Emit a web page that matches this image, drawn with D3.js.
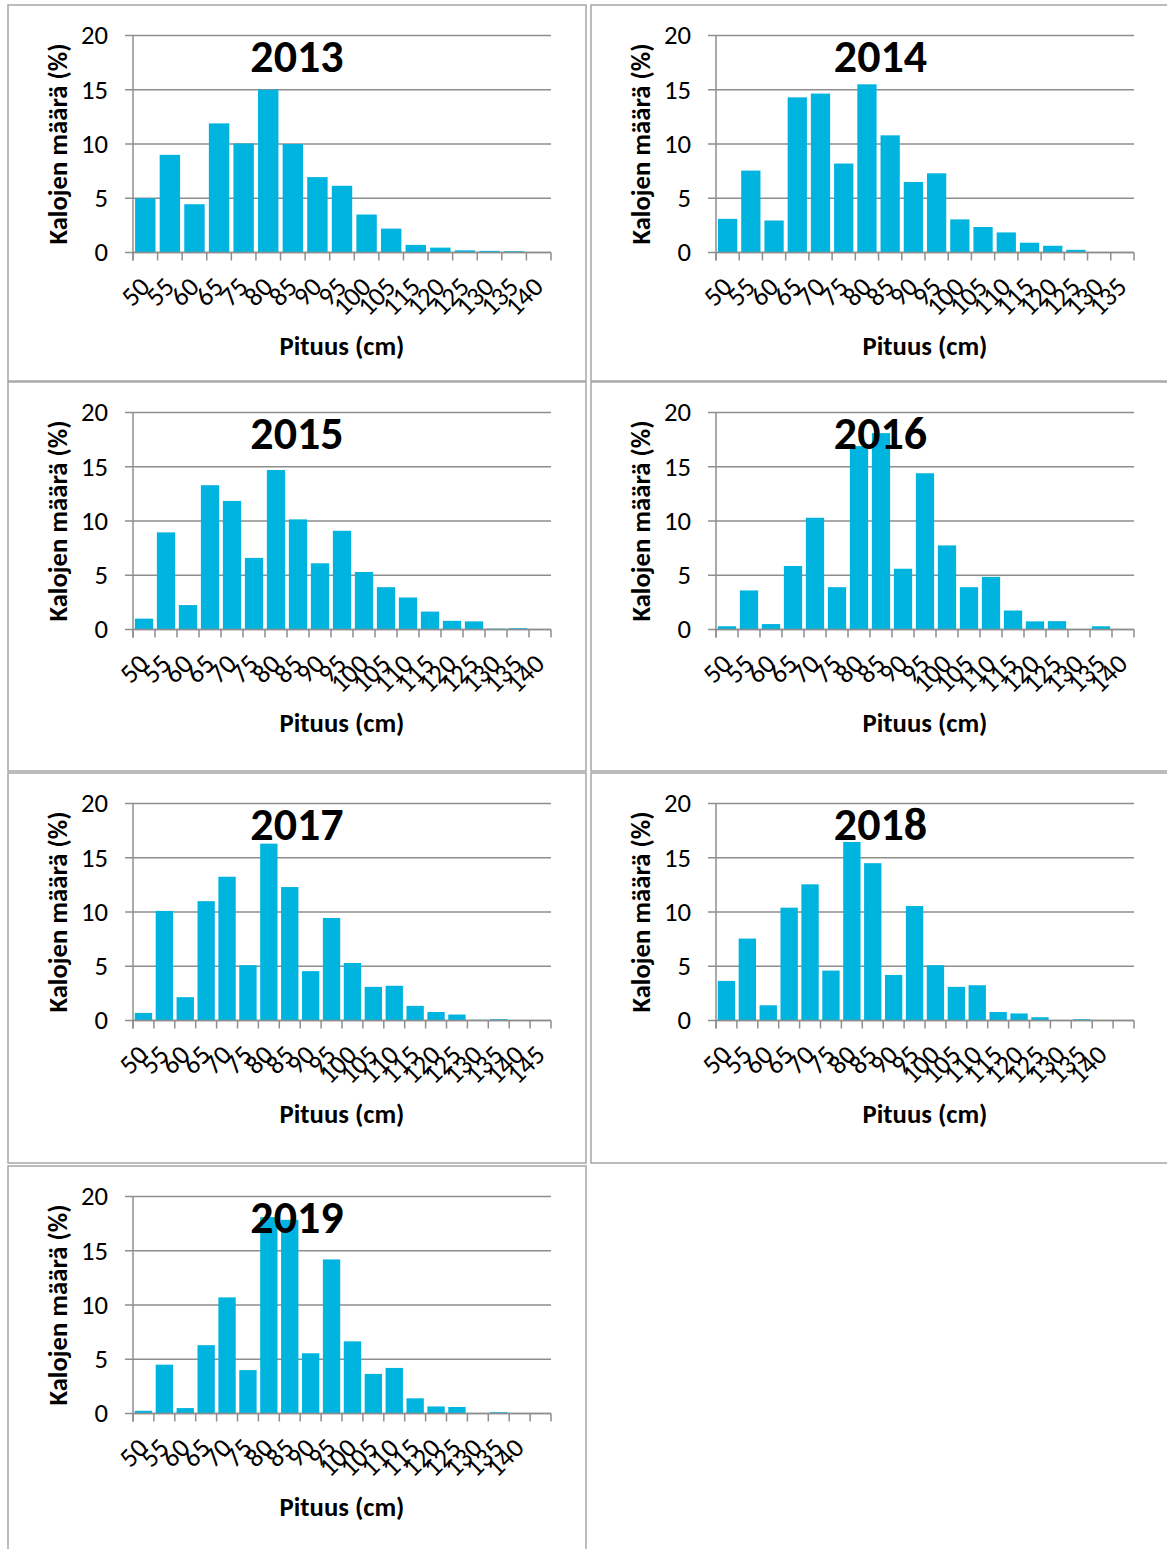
<!DOCTYPE html>
<html>
<head>
<meta charset="utf-8">
<script src="https://d3js.org/d3.v7.min.js"></script>
<style>
  body { margin: 0; background: #fff; }
  text { font-family: Carlito, Lato, "Open Sans", sans-serif; fill: #000; }
</style>
</head>
<body>
<svg id="chart" width="1167" height="1549"></svg>
<script>
// y axis ticks (same in every panel)
var yTicks = [0, 5, 10, 15, 20];

// length classes (cm) and share of fish (%) per year
var cats2013 = ["50", "55", "60", "65", "75", "80", "85", "90", "95", "100", "105", "115", "120", "125", "130", "135", "140"];
var vals2013 = [5.0, 9.0, 4.45, 11.9, 10.05, 15.0, 10.0, 6.95, 6.15, 3.5, 2.2, 0.7, 0.45, 0.2, 0.15, 0.12, 0];

var cats2014 = ["50", "55", "60", "65", "70", "75", "80", "85", "90", "95", "100", "105", "110", "115", "120", "125", "130", "135"];
var vals2014 = [3.1, 7.55, 2.95, 14.3, 14.65, 8.2, 15.5, 10.8, 6.5, 7.3, 3.05, 2.35, 1.85, 0.9, 0.62, 0.25, 0, 0.05];

var cats2015 = ["50", "55", "60", "65", "70", "75", "80", "85", "90", "95", "100", "105", "110", "115", "120", "125", "130", "135", "140"];
var vals2015 = [1.0, 8.95, 2.25, 13.3, 11.85, 6.6, 14.7, 10.15, 6.1, 9.1, 5.3, 3.9, 2.95, 1.65, 0.8, 0.75, 0.08, 0.12, 0];

var cats2016 = ["50", "55", "60", "65", "70", "75", "80", "85", "90", "95", "100", "105", "110", "115", "120", "125", "130", "135", "140"];
var vals2016 = [0.3, 3.6, 0.5, 5.85, 10.3, 3.9, 16.9, 18.1, 5.6, 14.4, 7.75, 3.9, 4.85, 1.75, 0.75, 0.77, 0, 0.3, 0];

var cats2017 = ["50", "55", "60", "65", "70", "75", "80", "85", "90", "95", "100", "105", "110", "115", "120", "125", "130", "135", "140", "145"];
var vals2017 = [0.7, 10.1, 2.15, 11.0, 13.25, 5.1, 16.3, 12.3, 4.55, 9.45, 5.3, 3.1, 3.2, 1.35, 0.78, 0.55, 0.06, 0.12, 0, 0];

var cats2018 = ["50", "55", "60", "65", "70", "75", "80", "85", "90", "95", "100", "105", "110", "115", "120", "125", "130", "135", "140", ""];
var vals2018 = [3.65, 7.55, 1.4, 10.4, 12.55, 4.6, 16.45, 14.5, 4.2, 10.55, 5.1, 3.1, 3.25, 0.78, 0.65, 0.3, 0, 0.12, 0, 0];

var cats2019 = ["50", "55", "60", "65", "70", "75", "80", "85", "90", "95", "100", "105", "110", "115", "120", "125", "130", "135", "140", ""];
var vals2019 = [0.25, 4.5, 0.5, 6.3, 10.7, 4.0, 18.1, 17.85, 5.55, 14.2, 6.65, 3.65, 4.2, 1.4, 0.65, 0.6, 0, 0.12, 0.03, 0];

var panels = [
    { year: "2013", cats: cats2013, vals: vals2013, x: 8, y: 5, w: 578, h: 376 },
    { year: "2014", cats: cats2014, vals: vals2014, x: 591, y: 5, w: 579, h: 376 },
    { year: "2015", cats: cats2015, vals: vals2015, x: 8, y: 382, w: 578, h: 389 },
    { year: "2016", cats: cats2016, vals: vals2016, x: 591, y: 382, w: 579, h: 389 },
    { year: "2017", cats: cats2017, vals: vals2017, x: 8, y: 773, w: 578, h: 390 },
    { year: "2018", cats: cats2018, vals: vals2018, x: 591, y: 773, w: 579, h: 390 },
    { year: "2019", cats: cats2019, vals: vals2019, x: 8, y: 1166, w: 578, h: 390 }
];

var gridColor = "#8e8e8e",
    frameColor = "#a6a6a6",
    barColor = "#00b4e0";

var svg = d3.select("#chart");

function drawPanel(p) {
    var g = svg.append("g")
        .attr("transform", "translate(" + p.x + "," + p.y + ")");

    g.append("rect")
        .attr("x", 0).attr("y", 0)
        .attr("width", p.w).attr("height", p.h)
        .attr("fill", "none")
        .attr("stroke", frameColor)
        .attr("stroke-width", 1.5);

    var left = 125, right = 543, top = 30.5, bottom = 247.5;

    var x = d3.scaleBand()
        .domain(d3.range(p.cats.length))
        .range([left, right])
        .paddingInner(0.17)
        .paddingOuter(0.085);

    var y = d3.scaleLinear()
        .domain([0, 20])
        .range([bottom, top]);

    // gridlines + y ticks
    g.selectAll(".grid")
        .data(yTicks)
        .enter().append("line")
        .attr("x1", left - 8)
        .attr("x2", right)
        .attr("y1", function (d) { return y(d); })
        .attr("y2", function (d) { return y(d); })
        .attr("stroke", gridColor)
        .attr("stroke-width", 1.5);

    g.selectAll(".ylab")
        .data(yTicks)
        .enter().append("text")
        .attr("x", left - 25)
        .attr("y", function (d) { return y(d); })
        .attr("dy", "0.33em")
        .attr("text-anchor", "end")
        .style("font-size", "26.7px")
        .text(function (d) { return d; });

    // bars
    g.selectAll(".bar")
        .data(p.vals)
        .enter().append("rect")
        .attr("x", function (d, i) { return x(i); })
        .attr("y", function (d) { return y(d); })
        .attr("width", x.bandwidth())
        .attr("height", function (d) { return bottom - y(d); })
        .attr("fill", barColor);

    // axes lines
    g.append("line")
        .attr("x1", left).attr("x2", left)
        .attr("y1", top).attr("y2", bottom + 8)
        .attr("stroke", gridColor).attr("stroke-width", 1.5);
    g.append("line")
        .attr("x1", left).attr("x2", right)
        .attr("y1", bottom).attr("y2", bottom)
        .attr("stroke", gridColor).attr("stroke-width", 1.5);

    // x ticks at category boundaries
    var step = x.step();
    g.selectAll(".xtick")
        .data(d3.range(p.cats.length + 1))
        .enter().append("line")
        .attr("x1", function (i) { return left + i * step; })
        .attr("x2", function (i) { return left + i * step; })
        .attr("y1", bottom)
        .attr("y2", bottom + 8)
        .attr("stroke", gridColor)
        .attr("stroke-width", 1.5);

    g.selectAll(".xlab")
        .data(p.cats)
        .enter().append("text")
        .attr("transform", function (d, i) {
            return "translate(" + (x(i) + x.bandwidth() / 2 + 6) + "," + (bottom + 36) + ") rotate(-45)";
        })
        .attr("text-anchor", "end")
        .style("font-size", "26.7px")
        .text(function (d) { return d; });

    // titles
    g.append("text")
        .attr("x", p.w / 2)
        .attr("y", 66.5)
        .attr("text-anchor", "middle")
        .style("font-size", "46px")
        .style("font-weight", "bold")
        .text(p.year);

    g.append("text")
        .attr("transform", "translate(" + 50 + "," + ((top + bottom) / 2) + ") rotate(-90)")
        .attr("dy", "0.33em")
        .attr("text-anchor", "middle")
        .style("font-size", "26.7px")
        .style("font-weight", "bold")
        .text("Kalojen määrä (%)");

    g.append("text")
        .attr("x", (left + right) / 2)
        .attr("y", 350)
        .attr("text-anchor", "middle")
        .style("font-size", "26.7px")
        .style("font-weight", "bold")
        .text("Pituus (cm)");
}

panels.forEach(drawPanel);
</script>
</body>
</html>
